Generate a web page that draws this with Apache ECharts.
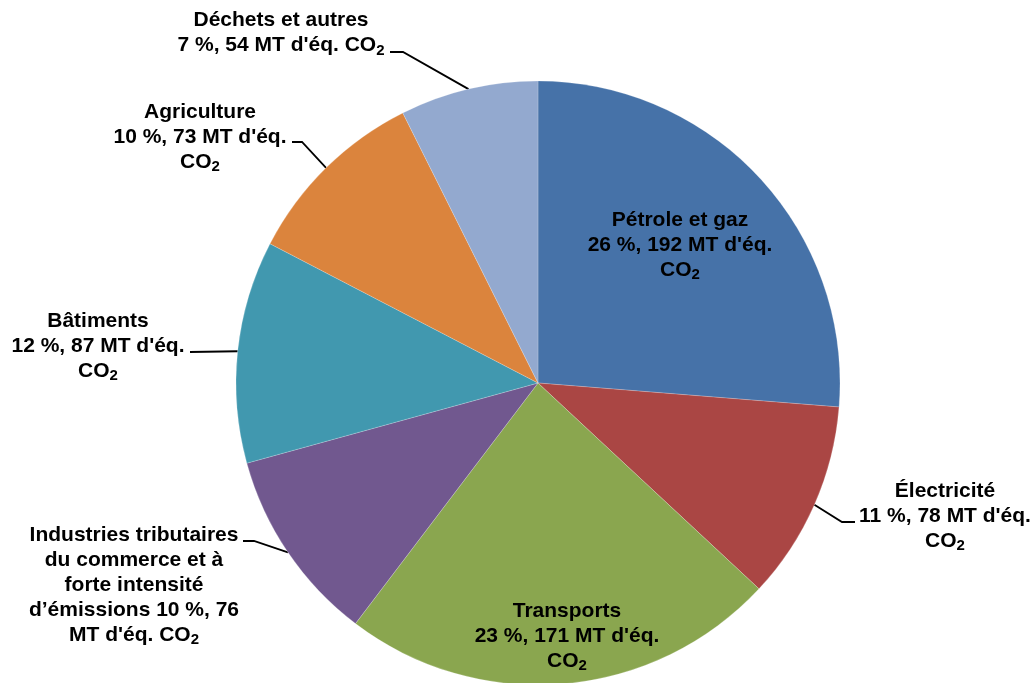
<!DOCTYPE html>
<html><head><meta charset="utf-8">
<script src="https://cdn.jsdelivr.net/npm/echarts@6/dist/echarts.min.js"></script>
<style>html,body{margin:0;padding:0;background:#fff}#c{width:1036px;height:683px}</style>
</head><body><div id="c"></div>
<script>
// ---- data ----
const categories = ['Pétrole et gaz', 'Électricité', 'Transports',
  'Industries tributaires du commerce et à forte intensité d’émissions',
  'Bâtiments', 'Agriculture', 'Déchets et autres'];
const values = [192, 78, 171, 76, 87, 73, 54];
// label text templates (#P = percent, #V = value)
const labelTemplates = [
  'Pétrole et gaz\n#P %, #V MT d\'éq.\nCO{s|2}',
  'Électricité\n#P %, #V MT d\'éq.\nCO{s|2}',
  'Transports\n#P %, #V MT d\'éq.\nCO{s|2}',
  'Industries tributaires\ndu commerce et à\nforte intensité\nd’émissions #P %, #V\nMT d\'éq. CO{s|2}',
  'Bâtiments\n#P %, #V MT d\'éq.\nCO{s|2}',
  'Agriculture\n#P %, #V MT d\'éq.\nCO{s|2}',
  'Déchets et autres\n#P %, #V MT d\'éq. CO{s|2}'
];
const insideLabels = [true, false, true, false, false, false, false];

// ---- styles / layout ----
const colors = ['#4672A8', '#AA4644', '#8AA64F', '#71588F', '#4198AF', '#DB843D', '#93A9CF'];
const labelPlacement = [
  { x: 680, y: 245 },
  { x: 945, y: 516, line: [[855, 522], [842, 522]] },
  { x: 567, y: 636 },
  { x: 134, y: 585, line: [[243, 541], [254, 541]] },
  { x: 98,  y: 346, line: [[190, 352], [190, 352]] },
  { x: 200, y: 137, line: [[292, 142], [302, 142]] },
  { x: 281, y: 33,  line: [[390, 52], [403, 52]] }
];
const FONT = '"Liberation Sans", Arial, sans-serif';

const seriesData = categories.map((name, i) => ({
  name: name,
  value: values[i],
  itemStyle: { color: colors[i] },
  label: insideLabels[i] ? { position: 'inside' } : { position: 'outside' },
  labelLine: { show: !insideLabels[i] }
}));

const chart = echarts.init(document.getElementById('c'), null, { renderer: 'canvas' });
chart.setOption({
  backgroundColor: '#ffffff',
  animation: false,
  series: [{
    type: 'pie',
    center: [538, 383],
    radius: 302,
    startAngle: 90,
    clockwise: true,
    avoidLabelOverlap: false,
    emphasis: { disabled: true },
    itemStyle: { borderColor: 'rgba(255,255,255,0.2)', borderWidth: 1 },
    label: {
      show: true,
      color: '#000',
      fontFamily: FONT,
      fontWeight: 'bold',
      fontSize: 21,
      lineHeight: 25,
      align: 'center',
      formatter: function (p) {
        return labelTemplates[p.dataIndex]
          .replace('#P', Math.round(p.percent))
          .replace('#V', p.value);
      },
      rich: {
        s: { fontSize: 15, lineHeight: 12, verticalAlign: 'bottom', fontWeight: 'bold', color: '#000', fontFamily: FONT }
      }
    },
    labelLine: { show: true, length: 10, length2: 10, lineStyle: { color: '#000', width: 1.8 } },
    labelLayout: function (params) {
      const c = labelPlacement[params.dataIndex];
      const out = { x: c.x, y: c.y, align: 'center', verticalAlign: 'middle' };
      if (c.line && params.labelLinePoints) {
        const a = params.labelLinePoints[0];
        out.labelLinePoints = [[c.line[0][0], c.line[0][1]], [c.line[1][0], c.line[1][1]], [a[0], a[1]]];
      }
      return out;
    },
    data: seriesData
  }]
});
</script>
</body></html>
